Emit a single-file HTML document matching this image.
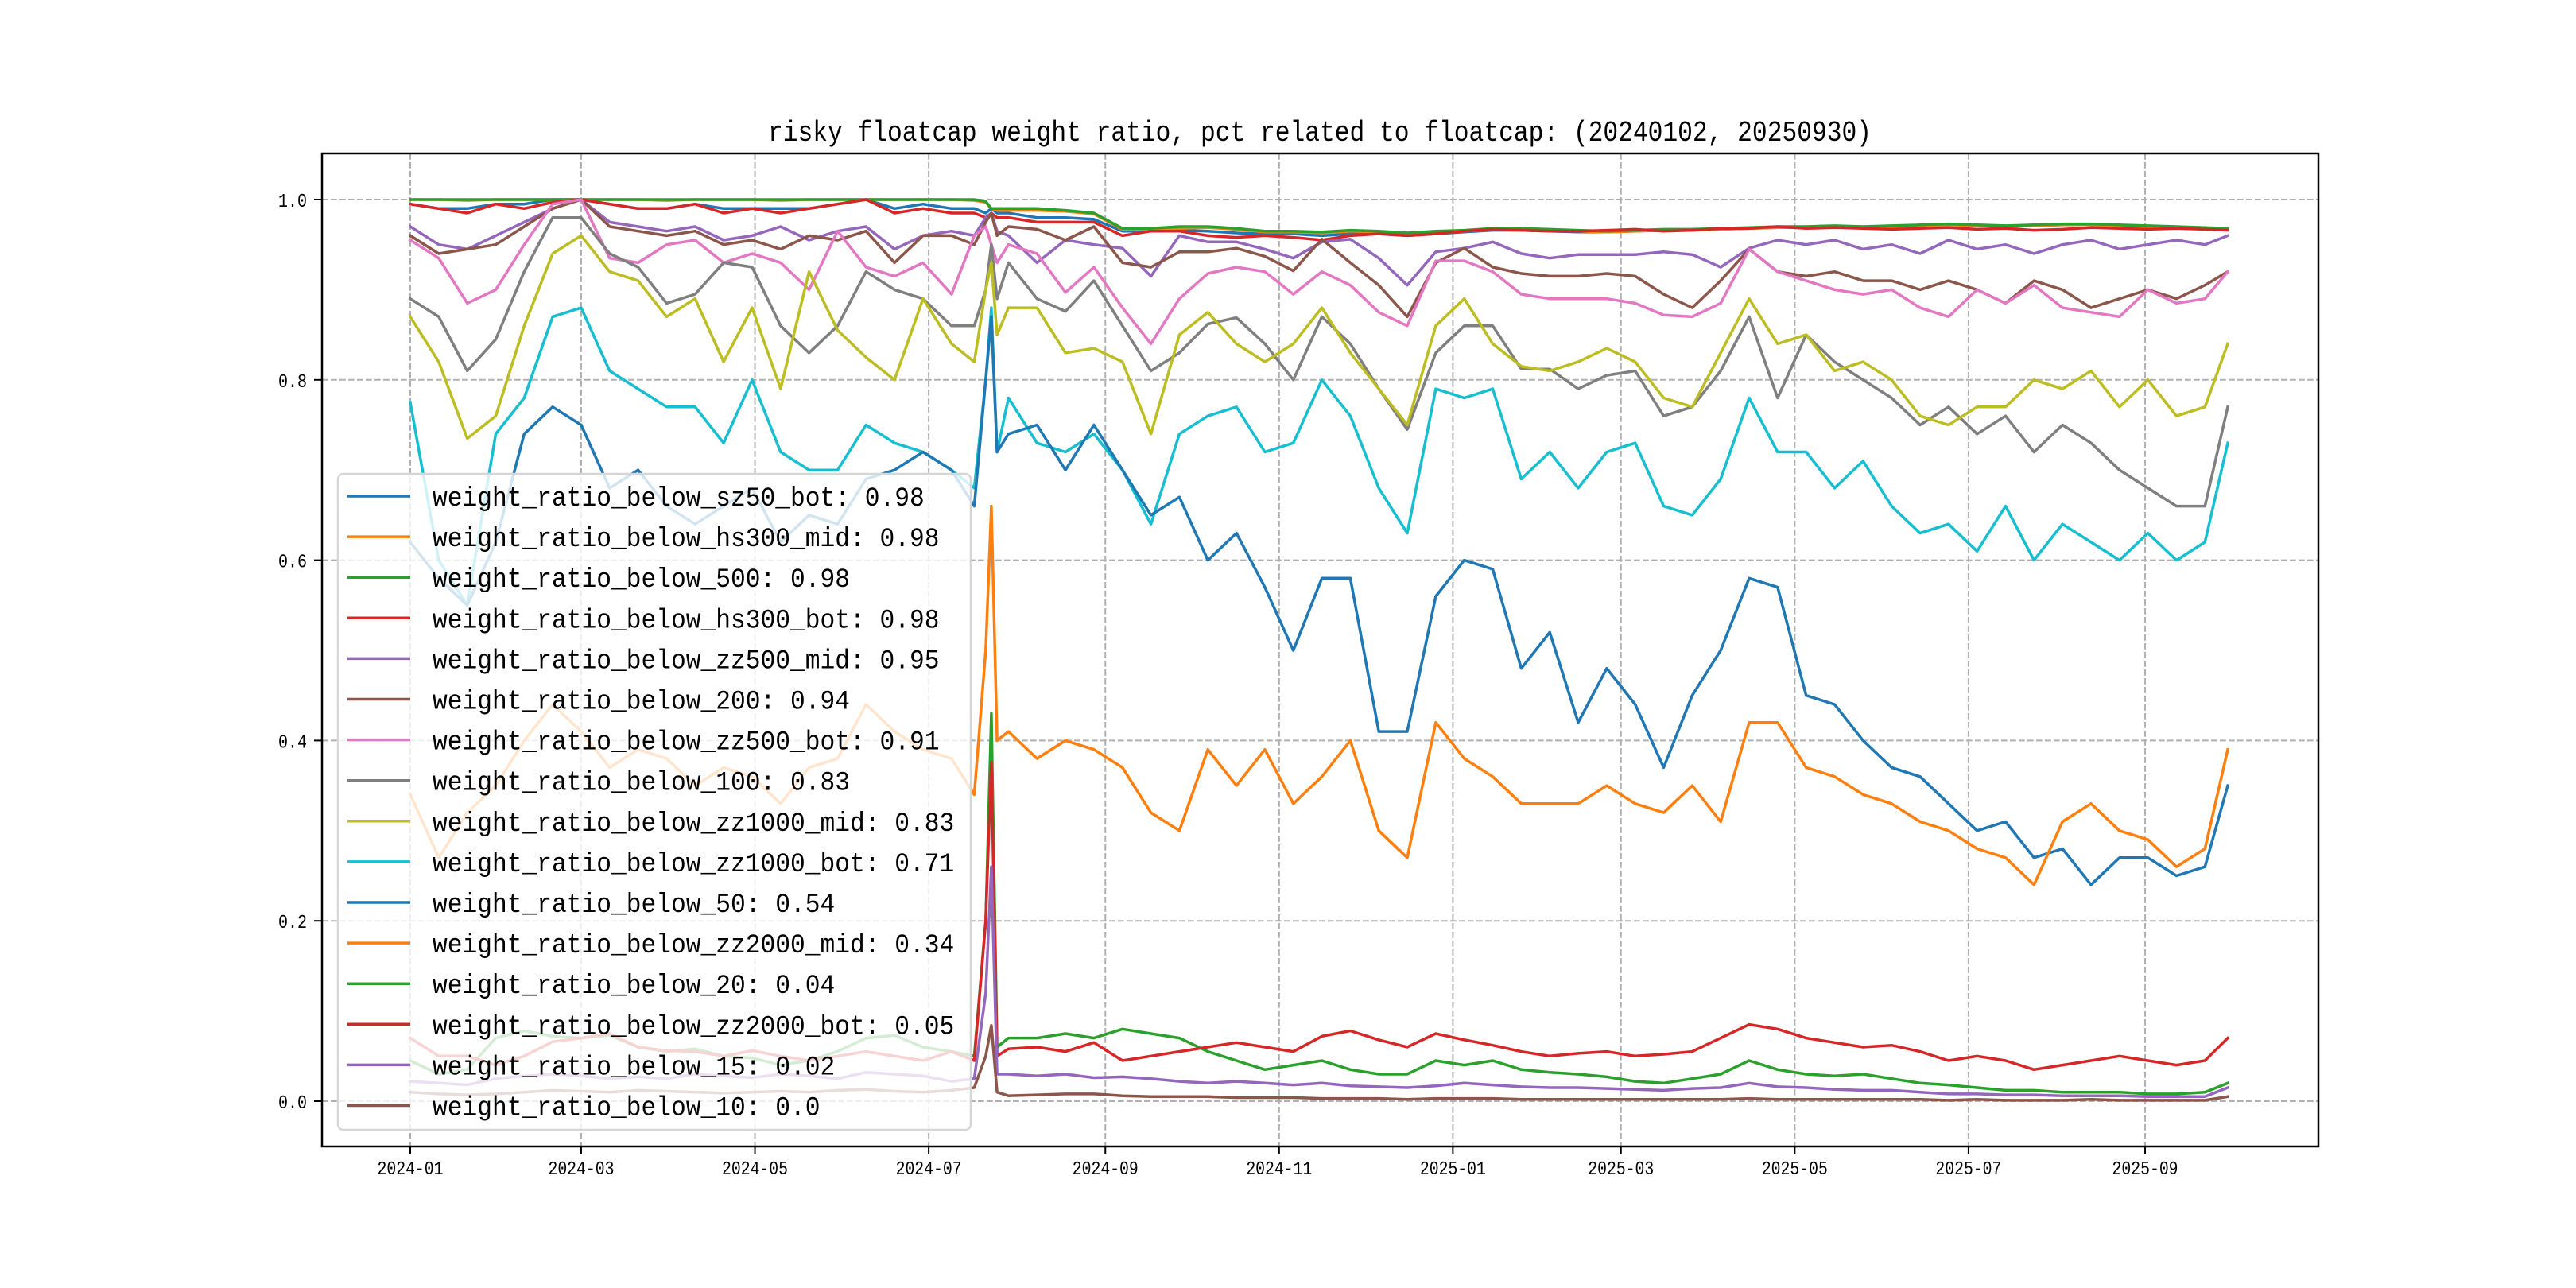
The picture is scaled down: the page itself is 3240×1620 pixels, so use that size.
<!DOCTYPE html>
<html><head><meta charset="utf-8">
<style>
html,body{margin:0;padding:0;background:#fff;}
svg{display:block;}
text{font-family:"Liberation Mono","Noto Sans CJK SC",monospace;fill:#000;}
</style></head>
<body>
<svg id="chart" width="3240" height="1620" viewBox="0 0 3240 1620" xmlns="http://www.w3.org/2000/svg">
<rect x="0" y="0" width="3240" height="1620" fill="#fff"/>
<text x="1660" y="177" text-anchor="middle" font-size="36" textLength="1388" lengthAdjust="spacingAndGlyphs">risky floatcap weight ratio, pct related to floatcap: (20240102, 20250930)</text>
<g id="grid"></g>
<g id="series"></g>
<rect x="405" y="193" width="2511" height="1249" fill="none" stroke="#000" stroke-width="2.5"/>
<g id="axes"></g>
<g id="legend"></g>
</svg>
<script>
// ---- data ----
const days = [0,10,20,30,40,50,60,70,80,90,100,110,120,130,140,150,160,170,180,190,
198,202,204,206,
210,220,230,240,250,260,270,280,290,300,310,320,330,340,350,360,370,380,390,400,410,420,430,440,450,460,470,
480,490,500,510,520,530,540,550,560,570,580,590,600,610,620,630,638];

const xTickDays = [0,60,121,182,244,305,366,425,486,547,609];
const xTickLabels = ["2024-01","2024-03","2024-05","2024-07","2024-09","2024-11","2025-01","2025-03","2025-05","2025-07","2025-09"];
const yTickValues = [0,0.2,0.4,0.6,0.8,1.0];
const yTickLabels = ["0.0","0.2","0.4","0.6","0.8","1.0"];

const seriesNames = ["weight_ratio_below_sz50_bot: 0.98","weight_ratio_below_hs300_mid: 0.98","weight_ratio_below_500: 0.98","weight_ratio_below_hs300_bot: 0.98","weight_ratio_below_zz500_mid: 0.95","weight_ratio_below_200: 0.94","weight_ratio_below_zz500_bot: 0.91","weight_ratio_below_100: 0.83","weight_ratio_below_zz1000_mid: 0.83","weight_ratio_below_zz1000_bot: 0.71","weight_ratio_below_50: 0.54","weight_ratio_below_zz2000_mid: 0.34","weight_ratio_below_20: 0.04","weight_ratio_below_zz2000_bot: 0.05","weight_ratio_below_15: 0.02","weight_ratio_below_10: 0.0"];

const sz50Bot = [.995,.99,.99,.995,.995,1,1,.995,.99,.99,.995,.99,.99,.99,.99,.995,1,.99,.995,.99,
.99,.985,.99,.985,
.985,.98,.98,.978,.965,.965,.966,.965,.963,.962,.962,.96,.962,.962,.96,.962,.964,.966,.966,.965,.964,.964,.965,.966,.966,.967,.968,.969,.969,.97,.969,.97,.971,.972,.971,.97,.971,.972,.972,.971,.97,.969,.968,.967];
const hs300Mid = [1,1,.999,1,1,1,1,1,1,.999,1,1,1,.999,1,1,1,1,1,1,
.999,.997,.99,.988,
.988,.988,.987,.984,.967,.967,.968,.969,.967,.964,.964,.963,.965,.964,.962,.964,.965,.967,.967,.966,.965,.964,.965,.966,.966,.967,.968,.969,.969,.97,.969,.97,.971,.972,.971,.97,.971,.972,.972,.971,.97,.969,.968,.967];
const b500 = [1,1,1,1,1,1,1,1,1,1,1,1,1,1,1,1,1,1,1,1,
1,.998,.99,.99,
.99,.99,.988,.985,.968,.968,.97,.97,.968,.965,.965,.964,.966,.965,.963,.965,.966,.968,.968,.967,.966,.965,.966,.967,.967,.968,.969,.97,.97,.971,.97,.971,.972,.973,.972,.971,.972,.973,.973,.972,.971,.97,.969,.968];
const hs300Bot = [.995,.99,.985,.995,.99,.997,1,.995,.99,.99,.995,.985,.99,.985,.99,.995,1,.985,.99,.985,
.985,.98,.985,.98,
.98,.975,.975,.975,.96,.965,.965,.96,.958,.96,.958,.955,.96,.962,.96,.962,.965,.967,.966,.965,.965,.966,.967,.965,.966,.968,.968,.97,.968,.969,.968,.967,.968,.969,.967,.968,.966,.967,.969,.968,.967,.968,.967,.966];
const zz500Mid = [.97,.95,.945,.96,.975,.99,1,.975,.97,.965,.97,.955,.96,.97,.955,.965,.97,.945,.96,.965,
.96,.98,.985,.965,
.96,.93,.955,.95,.946,.915,.96,.953,.953,.945,.935,.953,.956,.935,.905,.942,.946,.953,.94,.935,.939,.939,.939,.942,.939,.925,.946,
.955,.95,.955,.945,.95,.94,.955,.945,.95,.94,.95,.955,.945,.95,.955,.95,.96];
const b200 = [.96,.94,.945,.95,.97,.99,1,.97,.965,.96,.965,.95,.955,.945,.96,.955,.965,.93,.96,.96,
.95,.975,.985,.96,
.97,.967,.955,.97,.93,.925,.942,.942,.946,.937,.921,.956,.93,.905,.87,.93,.946,.925,.918,.915,.915,.918,.915,.895,.88,.91,.945,
.92,.915,.92,.91,.91,.9,.91,.9,.885,.91,.9,.88,.89,.9,.89,.905,.92];
const zz500Bot = [.955,.935,.885,.9,.95,.995,1,.935,.93,.95,.955,.93,.94,.93,.9,.965,.925,.915,.93,.895,
.96,.97,.95,.93,
.95,.94,.897,.925,.88,.84,.89,.918,.925,.92,.895,.92,.905,.875,.86,.932,.932,.92,.895,.89,.89,.89,.885,.872,.87,.885,.945,
.92,.91,.9,.895,.9,.88,.87,.9,.885,.905,.88,.875,.87,.9,.885,.89,.92];
const b100 = [.89,.87,.81,.845,.92,.98,.98,.94,.925,.885,.895,.93,.925,.86,.83,.86,.92,.9,.89,.86,
.86,.9,.95,.89,
.93,.89,.876,.91,.86,.81,.83,.862,.869,.84,.80,.87,.84,.79,.745,.83,.86,.86,.812,.812,.79,.805,.81,.76,.77,.81,.87,
.78,.85,.82,.8,.78,.75,.77,.74,.76,.72,.75,.73,.7,.68,.66,.66,.77];
const zz1000Mid = [.87,.82,.735,.76,.86,.94,.96,.92,.91,.87,.89,.82,.88,.79,.92,.855,.825,.8,.89,.84,
.82,.9,.93,.85,
.88,.88,.83,.835,.82,.74,.85,.875,.84,.82,.84,.88,.83,.79,.75,.86,.89,.84,.815,.81,.82,.835,.82,.78,.77,.83,.89,
.84,.85,.81,.82,.8,.76,.75,.77,.77,.8,.79,.81,.77,.8,.76,.77,.84];
const zz1000Bot = [.775,.6,.55,.74,.78,.87,.88,.81,.79,.77,.77,.73,.8,.72,.7,.7,.75,.73,.72,.7,
.68,.8,.88,.72,
.78,.73,.72,.74,.7,.64,.74,.76,.77,.72,.73,.8,.76,.68,.63,.79,.78,.79,.69,.72,.68,.72,.73,.66,.65,.69,.78,
.72,.72,.68,.71,.66,.63,.64,.61,.66,.6,.64,.62,.6,.63,.6,.62,.73];
const b50 = [.62,.58,.55,.62,.74,.77,.75,.68,.7,.66,.64,.66,.68,.62,.65,.64,.69,.7,.72,.7,
.66,.8,.87,.72,
.74,.75,.7,.75,.7,.65,.67,.6,.63,.57,.5,.58,.58,.41,.41,.56,.6,.59,.48,.52,.42,.48,.44,.37,.45,.5,.58,
.57,.45,.44,.4,.37,.36,.33,.3,.31,.27,.28,.24,.27,.27,.25,.26,.35];
const zz2000Mid = [.34,.27,.32,.35,.4,.44,.41,.37,.39,.38,.35,.37,.36,.33,.37,.38,.44,.41,.39,.38,
.34,.5,.66,.4,
.41,.38,.4,.39,.37,.32,.3,.39,.35,.39,.33,.36,.4,.3,.27,.42,.38,.36,.33,.33,.33,.35,.33,.32,.35,.31,.42,
.42,.37,.36,.34,.33,.31,.3,.28,.27,.24,.31,.33,.3,.29,.26,.28,.39];
const b20 = [.045,.03,.035,.07,.078,.072,.07,.073,.06,.055,.058,.05,.048,.04,.045,.055,.07,.073,.06,.055,
.05,.2,.43,.06,
.07,.07,.075,.07,.08,.075,.07,.055,.045,.035,.04,.045,.035,.03,.03,.045,.04,.045,.035,.032,.03,.027,.022,.02,.025,.03,.045,
.035,.03,.028,.03,.025,.02,.018,.015,.012,.012,.01,.01,.01,.008,.008,.01,.02];
const zz2000Bot = [.07,.05,.05,.04,.05,.066,.07,.075,.06,.056,.055,.05,.056,.05,.045,.05,.055,.05,.045,.055,
.045,.2,.376,.05,
.058,.06,.055,.065,.045,.05,.055,.06,.065,.06,.055,.072,.078,.068,.06,.075,.068,.062,.055,.05,.053,.055,.05,.052,.055,.07,.085,
.08,.07,.065,.06,.062,.055,.045,.05,.045,.035,.04,.045,.05,.045,.04,.045,.07];
const b15 = [.022,.02,.018,.025,.028,.03,.028,.025,.027,.025,.03,.028,.026,.03,.028,.025,.032,.03,.028,.022,
.025,.12,.26,.03,
.03,.028,.03,.026,.027,.025,.022,.02,.022,.02,.018,.02,.017,.016,.015,.017,.02,.018,.016,.015,.015,.014,.013,.012,.014,.015,.02,
.016,.015,.013,.012,.012,.01,.008,.008,.007,.007,.006,.006,.006,.005,.005,.005,.015];
const b10 = [.01,.008,.007,.008,.01,.012,.011,.01,.012,.011,.01,.009,.01,.011,.01,.012,.013,.011,.01,.012,
.015,.05,.084,.01,
.006,.007,.008,.008,.006,.005,.005,.005,.004,.004,.004,.003,.003,.003,.002,.003,.003,.003,.002,.002,.002,.002,.002,.002,.002,.002,.003,
.002,.002,.002,.002,.002,.002,.001,.002,.001,.001,.001,.002,.001,.001,.001,.001,.005];

const allSeries = [sz50Bot,hs300Mid,b500,hs300Bot,zz500Mid,b200,zz500Bot,b100,zz1000Mid,zz1000Bot,b50,zz2000Mid,b20,zz2000Bot,b15,b10];
const colors = ["#1f77b4","#ff7f0e","#2ca02c","#d62728","#9467bd","#8c564b","#e377c2","#7f7f7f","#bcbd22","#17becf","#1f77b4","#ff7f0e","#2ca02c","#d62728","#9467bd","#8c564b"];
const seriesKeys = ["sz50-bot","hs300-mid","below-500","hs300-bot","zz500-mid","below-200","zz500-bot","below-100","zz1000-mid","zz1000-bot","below-50","zz2000-mid","below-20","zz2000-bot","below-15","below-10"];

// ---- axes ----
const PL=405, PR=2916, PT=193, PB=1442;
function xPos(d){ return 516 + d*3.583; }
function yPos(v){ return 1385 - v*1134; }

const NS="http://www.w3.org/2000/svg";
function mk(tag, attrs, parent){
  const e=document.createElementNS(NS,tag);
  for(const k in attrs) e.setAttribute(k, attrs[k]);
  parent.appendChild(e);
  return e;
}
const grid=document.getElementById('grid');
const axes=document.getElementById('axes');
const sg=document.getElementById('series');
const lg=document.getElementById('legend');

xTickDays.forEach((d,i)=>{
  const x=xPos(d);
  const gl=mk('line',{x1:x,y1:PT,x2:x,y2:PB,stroke:'#b0b0b0','stroke-width':2,'stroke-dasharray':'7.7,3.3'},grid);
  
  
  const tk=mk('line',{x1:x,y1:PB,x2:x,y2:PB+10,stroke:'#000','stroke-width':2},axes);
  
  
  const t=mk('text',{x:x,y:1477,'text-anchor':'middle','font-size':24,textLength:83,lengthAdjust:'spacingAndGlyphs'},axes);
  t.textContent=xTickLabels[i];
  
  
});
yTickValues.forEach((v,i)=>{
  const y=yPos(v);
  const gl=mk('line',{x1:PL,y1:y,x2:PR,y2:y,stroke:'#b0b0b0','stroke-width':2,'stroke-dasharray':'7.7,3.3'},grid);
  
  
  const tk=mk('line',{x1:PL-10,y1:y,x2:PL,y2:y,stroke:'#000','stroke-width':2},axes);
  
  
  const t=mk('text',{x:386,y:y+9,'text-anchor':'end','font-size':24,textLength:36,lengthAdjust:'spacingAndGlyphs'},axes);
  t.textContent=yTickLabels[i];
  
  
});

// ---- series ----
allSeries.forEach((vals,si)=>{
  const n=Math.min(vals.length, days.length);
  let d='';
  for(let i=0;i<n;i++){ d+=(i?'L':'M')+xPos(days[i]).toFixed(1)+','+yPos(vals[i]).toFixed(1); }
  const p=mk('path',{d:d,fill:'none',stroke:colors[si],'stroke-width':3.5,'stroke-linejoin':'round','stroke-linecap':'square'},sg);
  
  
});

// ---- legend ----
const box=mk('rect',{x:425,y:596,width:796,height:825,rx:7,ry:7,fill:'rgba(255,255,255,0.8)',stroke:'#d6d6d6','stroke-width':2.5},lg);


seriesNames.forEach((name,i)=>{
  const cy=624+i*51.1;
  const ln=mk('line',{x1:437,y1:cy,x2:516,y2:cy,stroke:colors[i],'stroke-width':3.5},lg);
  
  
  const t=mk('text',{x:544,y:cy+12,'font-size':34,textLength:(name.length*18.75).toFixed(1),lengthAdjust:'spacingAndGlyphs'},lg);
  t.textContent=name;
  
  
});
</script>
</body></html>
